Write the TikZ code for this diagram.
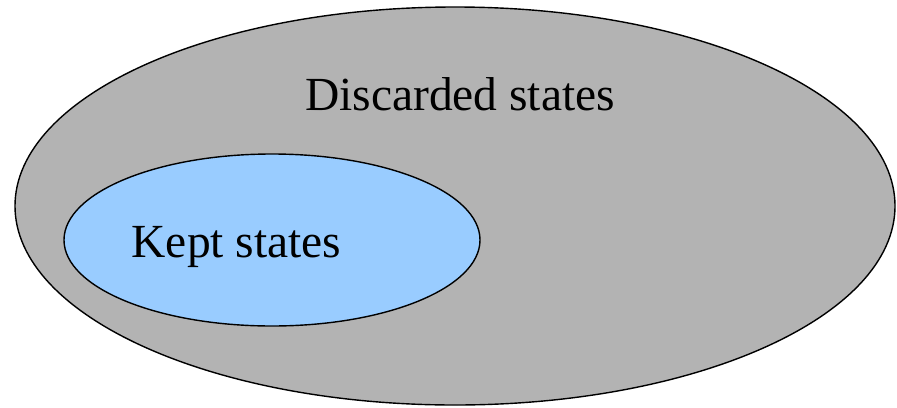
\documentclass[tikz,border=0pt]{standalone}
\usepackage{fontspec}
\setmainfont{Liberation Serif}
\usetikzlibrary{shapes.geometric}
\definecolor{discardgray}{RGB}{179,179,179}
\definecolor{keptblue}{RGB}{153,204,255}

\begin{document}
\begin{tikzpicture}[x=0.5pt,y=-0.5pt,every node/.style={font=\fontsize{23.75}{28}\selectfont,align=center},
  setshape/.style={draw,ellipse,line width=0.7pt,inner sep=0pt}]
\useasboundingbox (0,0) rectangle (897,407);
\node[setshape,fill=discardgray,minimum width=440pt,minimum height=199pt] (discarded) at (455,206) {};
\node[setshape,fill=keptblue,minimum width=208pt,minimum height=86pt] (kept) at (272,240) {};
\node[anchor=base] (discardedlabel) at (460,110) {Discarded states};
\node[anchor=base] (keptlabel) at (236.5,257) {Kept states};
\end{tikzpicture}
\end{document}
